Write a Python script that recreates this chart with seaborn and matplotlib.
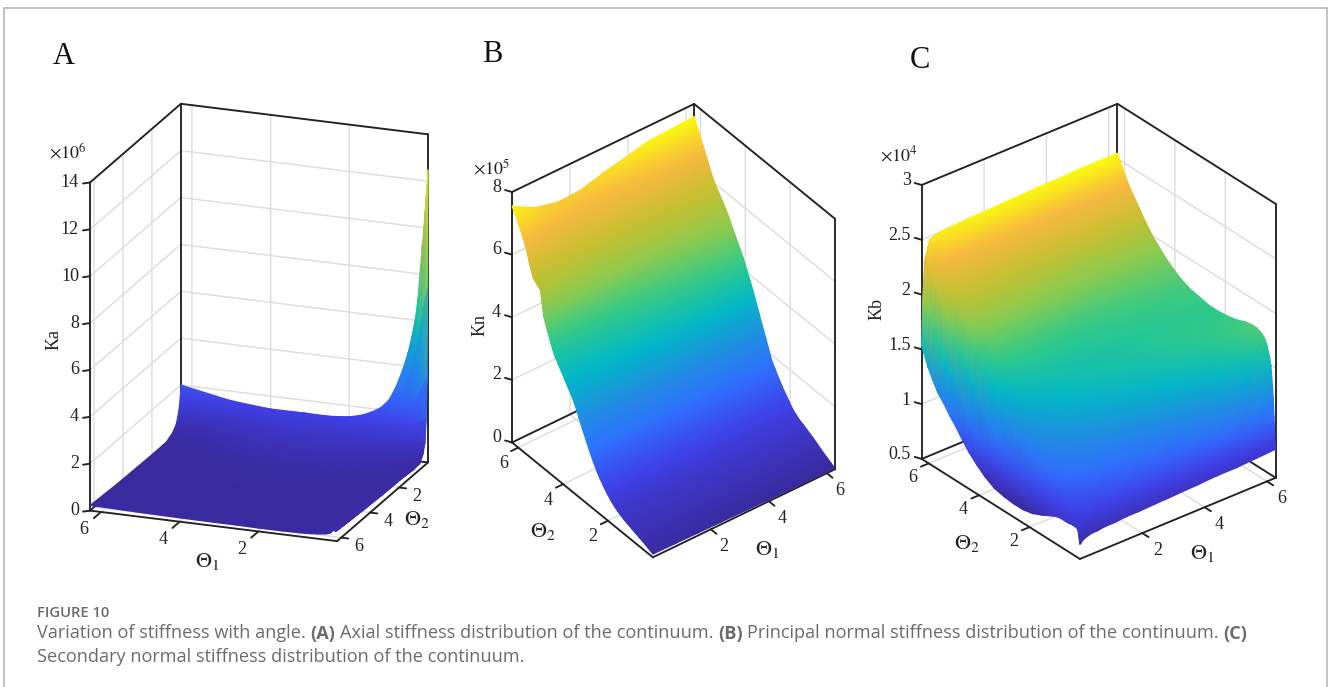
# Stiffness surfaces vs the two joint angles, three panels plus caption
import numpy as np
import matplotlib
matplotlib.use("Agg")
import matplotlib.pyplot as plt
from matplotlib.patches import Rectangle
from mpl_toolkits.mplot3d import proj3d
import seaborn as sns

W, H = 1328, 687

# panel A, axial stiffness (x 1e6), rows follow theta2, columns follow theta1
theta1_a = [0, .025, .05, .075, .107, .144, .188, .251, .314, .408, .502, .653, .816, .986, 1.193, 1.413, 1.696, 2.01, 2.512, 3.14, 4.019, 5.024, 6.28]
theta2_a = [0, .025, .063, .126, .207, .339, .565, 1.005, 1.884, 3.14, 4.396, 5.338, 6.28]
ka = [
    [12.5, 11.9, 11.3, 10.7, 10.0, 9.26, 8.4, 7.0, 6.15, 5.3, 4.6, 3.77, 3.05, 2.47, 2.1, 1.87, 1.66, 1.53, 1.45, 1.46, 1.45, 1.6, 2.0],
    [7.5, 7.3, 7.1, 6.9, 6.6, 6.2, 5.8, 5.2, 4.6, 4.0, 3.6, 3.05, 2.6, 2.25, 1.98, 1.78, 1.6, 1.49, 1.41, 1.42, 1.42, 1.5, 1.75],
    [3.6, 3.55, 3.5, 3.4, 3.3, 3.2, 3.05, 2.85, 2.65, 2.45, 2.3, 2.1, 1.92, 1.78, 1.65, 1.56, 1.47, 1.41, 1.36, 1.36, 1.36, 1.38, 1.4],
    [1.9, 1.9, 1.88, 1.85, 1.8, 1.78, 1.72, 1.68, 1.62, 1.56, 1.5, 1.43, 1.38, 1.34, 1.32, 1.3, 1.28, 1.27, 1.26, 1.28, 1.27, 1.2, 1.05],
    [.95, .95, .95, .96, .96, .97, .97, .98, .99, 1.0, 1.01, 1.03, 1.05, 1.07, 1.09, 1.11, 1.13, 1.14, 1.15, 1.18, 1.16, 1.02, .78],
    [.55, .56, .57, .58, .6, .62, .64, .67, .7, .74, .77, .81, .85, .88, .91, .94, .97, 1.0, 1.02, 1.05, 1.0, .82, .48],
    [.25, .27, .29, .31, .33, .36, .39, .43, .46, .5, .53, .58, .62, .66, .7, .74, .78, .82, .85, .88, .82, .6, .28],
    [.22, .22, .23, .24, .25, .26, .27, .29, .3, .32, .34, .37, .4, .43, .46, .49, .52, .56, .6, .62, .56, .36, .11],
    [.28, .26, .25, .24, .23, .22, .21, .2, .2, .2, .2, .21, .22, .23, .24, .25, .26, .27, .29, .3, .26, .18, .1],
    [.3, .28, .26, .25, .24, .22, .21, .2, .19, .18, .17, .17, .16, .16, .16, .16, .16, .16, .17, .17, .15, .12, .12],
    [.35, .33, .3, .28, .27, .25, .23, .21, .2, .18, .17, .15, .14, .13, .13, .12, .12, .12, .12, .12, .12, .12, .14],
    [.4, .37, .35, .32, .3, .28, .26, .24, .22, .2, .18, .16, .14, .13, .13, .13, .13, .13, .13, .13, .14, .15, .18],
    [.45, .42, .4, .46, .5, .38, .3, .26, .24, .22, .2, .18, .16, .15, .15, .14, .14, .14, .15, .15, .16, .18, .22],
]

# panel B, principal normal stiffness (x 1e5)
theta1_b = [0, .785, 1.57, 2.355, 3.14, 4.71, 6.28]
theta2_b = [0, .16, .31, .47, .63, .79, .94, 1.10, 1.26, 1.41, 1.57, 1.73, 1.88, 2.04, 2.20, 2.36, 2.51, 2.67, 2.83, 2.98, 3.14,
            3.30, 3.45, 3.61, 3.77, 3.93, 4.08, 4.24, 4.40, 4.55, 4.71, 4.87, 5.02, 5.18, 5.34, 5.50, 5.65, 5.81, 5.97, 6.12, 6.28]
kn = [
    [.10, .09, .08, .07, .06, .04, .03],
    [.15, .14, .13, .12, .11, .10, .09],
    [.20, .19, .18, .17, .17, .16, .15],
    [.24, .23, .23, .22, .22, .22, .21],
    [.28, .28, .28, .28, .28, .28, .28],
    [.32, .32, .33, .33, .34, .35, .35],
    [.36, .37, .38, .38, .39, .40, .42],
    [.40, .41, .42, .43, .44, .46, .48],
    [.44, .45, .47, .48, .49, .52, .54],
    [.49, .50, .52, .53, .55, .57, .60],
    [.55, .56, .58, .59, .60, .63, .65],
    [.63, .64, .65, .66, .67, .70, .73],
    [.72, .73, .75, .76, .77, .80, .82],
    [.84, .85, .87, .88, .89, .93, .97],
    [.98, .99, 1.01, 1.03, 1.05, 1.08, 1.12],
    [1.13, 1.14, 1.16, 1.18, 1.21, 1.25, 1.28],
    [1.30, 1.32, 1.34, 1.36, 1.38, 1.41, 1.45],
    [1.52, 1.53, 1.55, 1.56, 1.58, 1.62, 1.65],
    [1.75, 1.76, 1.78, 1.79, 1.80, 1.83, 1.85],
    [2.00, 2.01, 2.03, 2.05, 2.07, 2.12, 2.17],
    [2.25, 2.27, 2.30, 2.33, 2.36, 2.43, 2.50],
    [2.53, 2.55, 2.58, 2.62, 2.66, 2.74, 2.83],
    [2.80, 2.83, 2.87, 2.91, 2.96, 3.06, 3.15],
    [3.02, 3.06, 3.11, 3.16, 3.22, 3.34, 3.48],
    [3.20, 3.26, 3.33, 3.40, 3.47, 3.63, 3.80],
    [3.38, 3.45, 3.53, 3.61, 3.70, 3.88, 4.08],
    [3.55, 3.64, 3.73, 3.83, 3.93, 4.13, 4.35],
    [3.72, 3.82, 3.92, 4.02, 4.12, 4.35, 4.58],
    [3.90, 4.00, 4.10, 4.21, 4.33, 4.57, 4.80],
    [4.18, 4.27, 4.36, 4.46, 4.56, 4.80, 5.03],
    [4.50, 4.57, 4.65, 4.73, 4.82, 5.05, 5.27],
    [4.85, 4.95, 5.05, 5.10, 5.15, 5.30, 5.47],
    [5.60, 5.45, 5.35, 5.38, 5.42, 5.55, 5.65],
    [5.70, 5.62, 5.60, 5.61, 5.62, 5.72, 5.82],
    [5.80, 5.78, 5.80, 5.81, 5.82, 5.90, 5.98],
    [6.15, 6.08, 6.05, 6.05, 6.05, 6.12, 6.22],
    [6.55, 6.42, 6.32, 6.30, 6.30, 6.38, 6.50],
    [6.85, 6.68, 6.55, 6.53, 6.55, 6.65, 6.78],
    [7.10, 6.90, 6.78, 6.77, 6.80, 6.92, 7.05],
    [7.35, 7.08, 6.95, 6.97, 7.02, 7.18, 7.32],
    [7.55, 7.15, 6.97, 7.00, 7.20, 7.52, 7.60],
]

# panel C, secondary normal stiffness (x 1e4)
theta1_c = [0, .031, .094, .251, .408, .565, .816, 1.13, 1.507, 1.884, 2.826, 3.768, 4.396, 5.024, 5.652, 6.28]
theta2_c = [0, .031, .063, .094, .126, .188, .251, .345, .44, .565, .754, .942, 1.193, 1.507, 1.884, 2.261, 2.638, 3.014, 3.391, 3.768,
            4.082, 4.396, 4.647, 4.898, 5.15, 5.401, 5.652, 5.84, 6.029, 6.154, 6.28]
kb = [
    [.63, .64, .66, .68, .69, .69, .70, .70, .71, .71, .72, .73, .74, .74, .75, .76],
    [.68, .68, .69, .70, .70, .71, .71, .72, .72, .73, .74, .75, .76, .78, .81, .85],
    [.73, .72, .72, .72, .72, .73, .73, .74, .74, .75, .76, .78, .80, .83, .92, 1.05],
    [.76, .74, .74, .74, .74, .75, .75, .76, .76, .77, .78, .81, .84, .89, 1.03, 1.22],
    [.77, .75, .75, .76, .76, .77, .77, .78, .78, .79, .81, .84, .88, .95, 1.12, 1.33],
    [.77, .76, .77, .78, .79, .80, .80, .81, .82, .83, .85, .90, .96, 1.05, 1.26, 1.50],
    [.77, .76, .78, .80, .81, .82, .83, .84, .85, .87, .90, .95, 1.03, 1.13, 1.34, 1.58],
    [.77, .76, .79, .82, .84, .85, .86, .88, .90, .92, .96, 1.03, 1.12, 1.24, 1.44, 1.66],
    [.76, .76, .80, .84, .86, .87, .89, .92, .94, .96, 1.01, 1.10, 1.20, 1.33, 1.52, 1.71],
    [.76, .76, .80, .86, .88, .90, .92, .95, .97, 1.00, 1.07, 1.17, 1.29, 1.42, 1.58, 1.74],
    [.76, .76, .81, .88, .92, .95, .98, 1.02, 1.04, 1.07, 1.16, 1.29, 1.40, 1.51, 1.64, 1.76],
    [.75, .76, .82, .90, .95, 1.00, 1.04, 1.08, 1.11, 1.14, 1.25, 1.38, 1.48, 1.58, 1.68, 1.76],
    [.72, .76, .83, .95, 1.01, 1.06, 1.10, 1.15, 1.20, 1.24, 1.36, 1.47, 1.56, 1.63, 1.70, 1.75],
    [.68, .76, .85, 1.00, 1.06, 1.12, 1.17, 1.23, 1.29, 1.34, 1.46, 1.55, 1.61, 1.66, 1.70, 1.72],
    [.64, .75, .87, 1.05, 1.13, 1.20, 1.27, 1.33, 1.39, 1.44, 1.54, 1.60, 1.64, 1.67, 1.69, 1.70],
    [.62, .74, .90, 1.10, 1.19, 1.28, 1.35, 1.42, 1.47, 1.52, 1.58, 1.62, 1.65, 1.67, 1.68, 1.69],
    [.62, .75, .94, 1.17, 1.27, 1.36, 1.43, 1.50, 1.53, 1.56, 1.60, 1.63, 1.65, 1.67, 1.68, 1.69],
    [.63, .78, .98, 1.25, 1.35, 1.45, 1.51, 1.56, 1.58, 1.60, 1.62, 1.65, 1.67, 1.68, 1.70, 1.71],
    [.65, .82, 1.06, 1.36, 1.46, 1.55, 1.60, 1.63, 1.64, 1.64, 1.65, 1.68, 1.70, 1.71, 1.72, 1.73],
    [.70, .88, 1.15, 1.48, 1.58, 1.66, 1.68, 1.70, 1.70, 1.70, 1.70, 1.72, 1.73, 1.75, 1.76, 1.77],
    [.76, .97, 1.28, 1.60, 1.69, 1.76, 1.77, 1.78, 1.78, 1.77, 1.77, 1.78, 1.79, 1.80, 1.81, 1.82],
    [.83, 1.08, 1.42, 1.72, 1.80, 1.86, 1.87, 1.87, 1.87, 1.86, 1.85, 1.85, 1.85, 1.86, 1.87, 1.88],
    [.90, 1.18, 1.54, 1.82, 1.89, 1.94, 1.95, 1.95, 1.95, 1.94, 1.92, 1.92, 1.92, 1.93, 1.93, 1.94],
    [.98, 1.29, 1.66, 1.93, 1.98, 2.02, 2.02, 2.02, 2.02, 2.01, 2.00, 1.99, 1.99, 2.00, 2.00, 2.00],
    [1.05, 1.40, 1.78, 2.03, 2.07, 2.10, 2.10, 2.10, 2.10, 2.09, 2.08, 2.07, 2.07, 2.07, 2.07, 2.08],
    [1.13, 1.51, 1.89, 2.12, 2.15, 2.18, 2.18, 2.18, 2.18, 2.18, 2.17, 2.16, 2.16, 2.16, 2.16, 2.17],
    [1.20, 1.62, 2.00, 2.20, 2.23, 2.26, 2.26, 2.27, 2.27, 2.27, 2.26, 2.26, 2.26, 2.26, 2.26, 2.26],
    [1.28, 1.72, 2.09, 2.28, 2.31, 2.33, 2.33, 2.34, 2.34, 2.34, 2.34, 2.33, 2.33, 2.33, 2.33, 2.33],
    [1.37, 1.82, 2.18, 2.36, 2.39, 2.41, 2.42, 2.43, 2.43, 2.43, 2.43, 2.42, 2.42, 2.42, 2.42, 2.42],
    [1.45, 1.88, 2.24, 2.42, 2.45, 2.47, 2.48, 2.48, 2.49, 2.49, 2.49, 2.49, 2.49, 2.49, 2.49, 2.49],
    [1.53, 1.95, 2.30, 2.47, 2.49, 2.50, 2.51, 2.51, 2.52, 2.52, 2.53, 2.54, 2.54, 2.55, 2.55, 2.55],
]

angle_ticks = [2, 4, 6]
ticks_a = [0, 2, 4, 6, 8, 10, 12, 14]
ticks_b = [0, 2, 4, 6, 8]
ticks_c = [.5, 1, 1.5, 2, 2.5, 3]
labels_c = ["0.5", "1", "1.5", "2", "2.5", "3"]

sns.set_theme(style="white", rc={"grid.color": "#dcdcdc", "grid.linewidth": 1.0,
                                 "mathtext.fontset": "stix"})
plt.rcParams["font.family"] = ["Liberation Serif", "DejaVu Serif"]

parula = sns.blend_palette(["#3a2a9e", "#4040e8", "#3070ff", "#2090e0", "#00b8c8", "#30c98a",
                            "#8acb50", "#c8c030", "#f8b840", "#f9fb0e"], n_colors=256, as_cmap=True)
INK = "#222222"
LIM = 6.28

fig = plt.figure(figsize=(W / 100, H / 100), dpi=100, facecolor="white")
bg = fig.add_axes([0, 0, 1, 1], zorder=0)
fg = fig.add_axes([0, 0, 1, 1], zorder=10)
for layer in (bg, fg):
    layer.set_xlim(0, W)
    layer.set_ylim(H, 0)
    layer.axis("off")
bg.add_patch(Rectangle((4.3, 7.5), 1322.7, 720, fc="white", ec="#b0b0b0", lw=1.1))


def to_px(ax, x, y, z):
    shape = np.shape(x)
    x2, y2, _ = proj3d.proj_transform(np.ravel(x), np.ravel(y), np.ravel(z), ax.get_proj())
    pts = ax.transData.transform(np.column_stack([x2, y2]))
    return pts[:, 0].reshape(shape), H - pts[:, 1].reshape(shape)


def point_px(ax, x, y, z):
    px, py = to_px(ax, [float(x)], [float(y)], [float(z)])
    return px[0], py[0]


def fit_box(ax, corner0, target0, corner1, target1):
    # move and scale the square 3d axes until two box corners land on the target pixels
    ax.set_position([.2, .2, .4, .4 * W / H])
    ax.apply_aspect()
    p0 = point_px(ax, *corner0)
    p1 = point_px(ax, *corner1)
    k = (target1[0] - target0[0]) / (p1[0] - p0[0])
    pos = ax.get_position()
    side = pos.width * W * k
    left = target0[0] - (p0[0] - pos.x0 * W) * k
    top = target0[1] - (p0[1] - (H - pos.y1 * H)) * k
    ax.set_position([left / W, 1 - (top + side) / H, side / W, side / H])
    ax.apply_aspect()


def panel(slot, th1, th2, vals, zlim, zticks, zlabels, view, aspect, fit, near_x, near_y,
          xdir, ydir, xoff, yoff, ztick, zoff):
    ax = fig.add_axes([.2, .2, .3, .3], projection="3d", computed_zorder=False, zorder=slot + 1)
    ax.patch.set_alpha(0)
    ax.set_proj_type("ortho")
    ax.set_xlim(0, LIM)
    ax.set_ylim(0, LIM)
    ax.set_zlim(*zlim)
    ax.view_init(elev=view[0], azim=view[1])
    ax.set_box_aspect(aspect)
    fit_box(ax, *fit)

    ax.set_xticks(angle_ticks)
    ax.set_yticks(angle_ticks)
    ax.set_zticks(zticks)
    ax.set_xticklabels([])
    ax.set_yticklabels([])
    ax.set_zticklabels([])
    ax.grid(True)
    for a in (ax.xaxis, ax.yaxis, ax.zaxis):
        a.set_pane_color((1, 1, 1, 0))
        a.pane.set_edgecolor((1, 1, 1, 0))
        a.line.set_color((1, 1, 1, 0))
    ax.tick_params(colors=(1, 1, 1, 0))

    # the box: all edges except the three closest to the viewer at the top
    z0, z1 = zlim
    far_x = LIM - near_x
    far_y = LIM - near_y
    floor = [(near_x, near_y), (far_x, near_y), (far_x, far_y), (near_x, far_y)]
    line = dict(color=INK, lw=1.35, zorder=2, clip_on=False)
    for i in range(4):
        a, b = floor[i], floor[(i + 1) % 4]
        ax.plot([a[0], b[0]], [a[1], b[1]], [z0, z0], **line)
    for a, b in ((floor[1], floor[2]), (floor[2], floor[3])):
        ax.plot([a[0], b[0]], [a[1], b[1]], [z1, z1], **line)
    for a in floor[1:]:
        ax.plot([a[0], a[0]], [a[1], a[1]], [z0, z1], **line)

    # angle ticks point out of the two front floor edges, labels next to them
    for t in angle_ticks:
        ax.plot([t, t], [near_y, near_y + ydir], [z0, z0], **line)
        ax.plot([near_x, near_x + xdir], [t, t], [z0, z0], **line)
        px, py = point_px(ax, t, near_y, z0)
        bg.text(px + xoff[0], py + xoff[1], str(t), ha="center", va="center", fontsize=13, color=INK)
        px, py = point_px(ax, near_x, t, z0)
        bg.text(px + yoff[0], py + yoff[1], str(t), ha="center", va="center", fontsize=13, color=INK)

    # stiffness ticks on the left vertical edge
    left_x, left_y = fit[0][0], fit[0][1]
    for v, lab in zip(zticks, zlabels):
        px, py = point_px(ax, left_x, left_y, v)
        bg.plot([px + ztick[0], px], [py + ztick[1], py], color=INK, lw=1.35)
        bg.text(px + zoff[0], py + zoff[1], lab, ha="right", va="center", fontsize=13, color=INK)

    # surface with colours interpolated by the renderer between the read-off nodes,
    # cells are painted from the far corner to the near one
    X, Y = np.meshgrid(th1, th2)
    Z = np.array(vals)
    if near_x == 0:
        X, Y, Z = X[:, ::-1], Y[:, ::-1], Z[:, ::-1]
    if near_y == 0:
        X, Y, Z = X[::-1], Y[::-1], Z[::-1]
    px, py = to_px(ax, X, Y, Z)
    fg.pcolormesh(px, py, Z, cmap=parula, shading="gouraud")
    fg.set_xlim(0, W)
    fg.set_ylim(H, 0)
    return ax


panel(0, theta1_a, theta2_a, ka, (0, 14), ticks_a, [str(v) for v in ticks_a], (19.1, 110.7), (264, 257, 347),
      ((LIM, LIM, 14), (90, 182.5), (0, 0, 0), (428, 462.5)),
      0, LIM, -.18, .5, (-17, 18), (18, 9), (-7, 1), (-11, 0))
panel(1, theta1_b, theta2_b, kn, (0, 8), ticks_b, [str(v) for v in ticks_b], (38.9, -127.6), (230, 231, 322),
      ((0, LIM, 8), (512, 192), (LIM, 0, 0), (835, 470)),
      0, 0, -.25, -.25, (13, 17), (-15, 16), (-7, -2), (-11, -5))
panel(2, theta1_c, theta2_c, kb, (.5, 3), ticks_c, labels_c, (30.8, -129), (252, 251.5, 319),
      ((0, LIM, 3), (921.7, 185), (LIM, 0, .5), (1275.7, 478)),
      0, 0, -.25, -.25, (15, 17), (-16, 14), (-7, -2), (-11, -4))

# panel letters
for s, x, y in (("A", 64, 56), ("B", 492, 55), ("C", 920, 60)):
    bg.text(x, y, s, ha="center", va="center", fontsize=22, color="#111111")

# axis titles and exponents
for s, x, y in ((r"$\Theta_1$", 207, 561), (r"$\Theta_2$", 417, 520), (r"$\Theta_2$", 543, 531),
                (r"$\Theta_1$", 767, 550), (r"$\Theta_2$", 967, 543), (r"$\Theta_1$", 1202, 553)):
    bg.text(x, y, s, ha="center", va="center", fontsize=16, color=INK)
for s, x, y in (("Ka", 54, 340), ("Kn", 480, 325), ("Kb", 877, 309)):
    bg.text(x, y, s, ha="center", va="center", rotation=90, fontsize=13, color=INK)
for s, x, y in ((r"$\times10^{6}$", 68, 152), (r"$\times10^{5}$", 492, 168), (r"$\times10^{4}$", 899, 155)):
    bg.text(x, y, s, ha="center", va="center", fontsize=13, color=INK)


# caption, regular and bold pieces run on one line
def run_text(x, y, pieces, size):
    rend = fig.canvas.get_renderer()
    for s, weight in pieces:
        t = bg.text(x, y, s, ha="left", va="center", fontsize=size, color="#6b6b6b",
                    family=["Open Sans", "DejaVu Sans"], fontweight=weight)
        x += t.get_window_extent(rend).width + 4.6


run_text(37, 613, [("FIGURE 10", "semibold")], 10.6)
run_text(37, 633.5, [("Variation of stiffness with angle.", "normal"), ("(A)", "bold"),
                     ("Axial stiffness distribution of the continuum.", "normal"), ("(B)", "bold"),
                     ("Principal normal stiffness distribution of the continuum.", "normal"), ("(C)", "bold")], 13.1)
run_text(37, 656.5, [("Secondary normal stiffness distribution of the continuum.", "normal")], 13.1)

fig.savefig("out.png", dpi=100)
